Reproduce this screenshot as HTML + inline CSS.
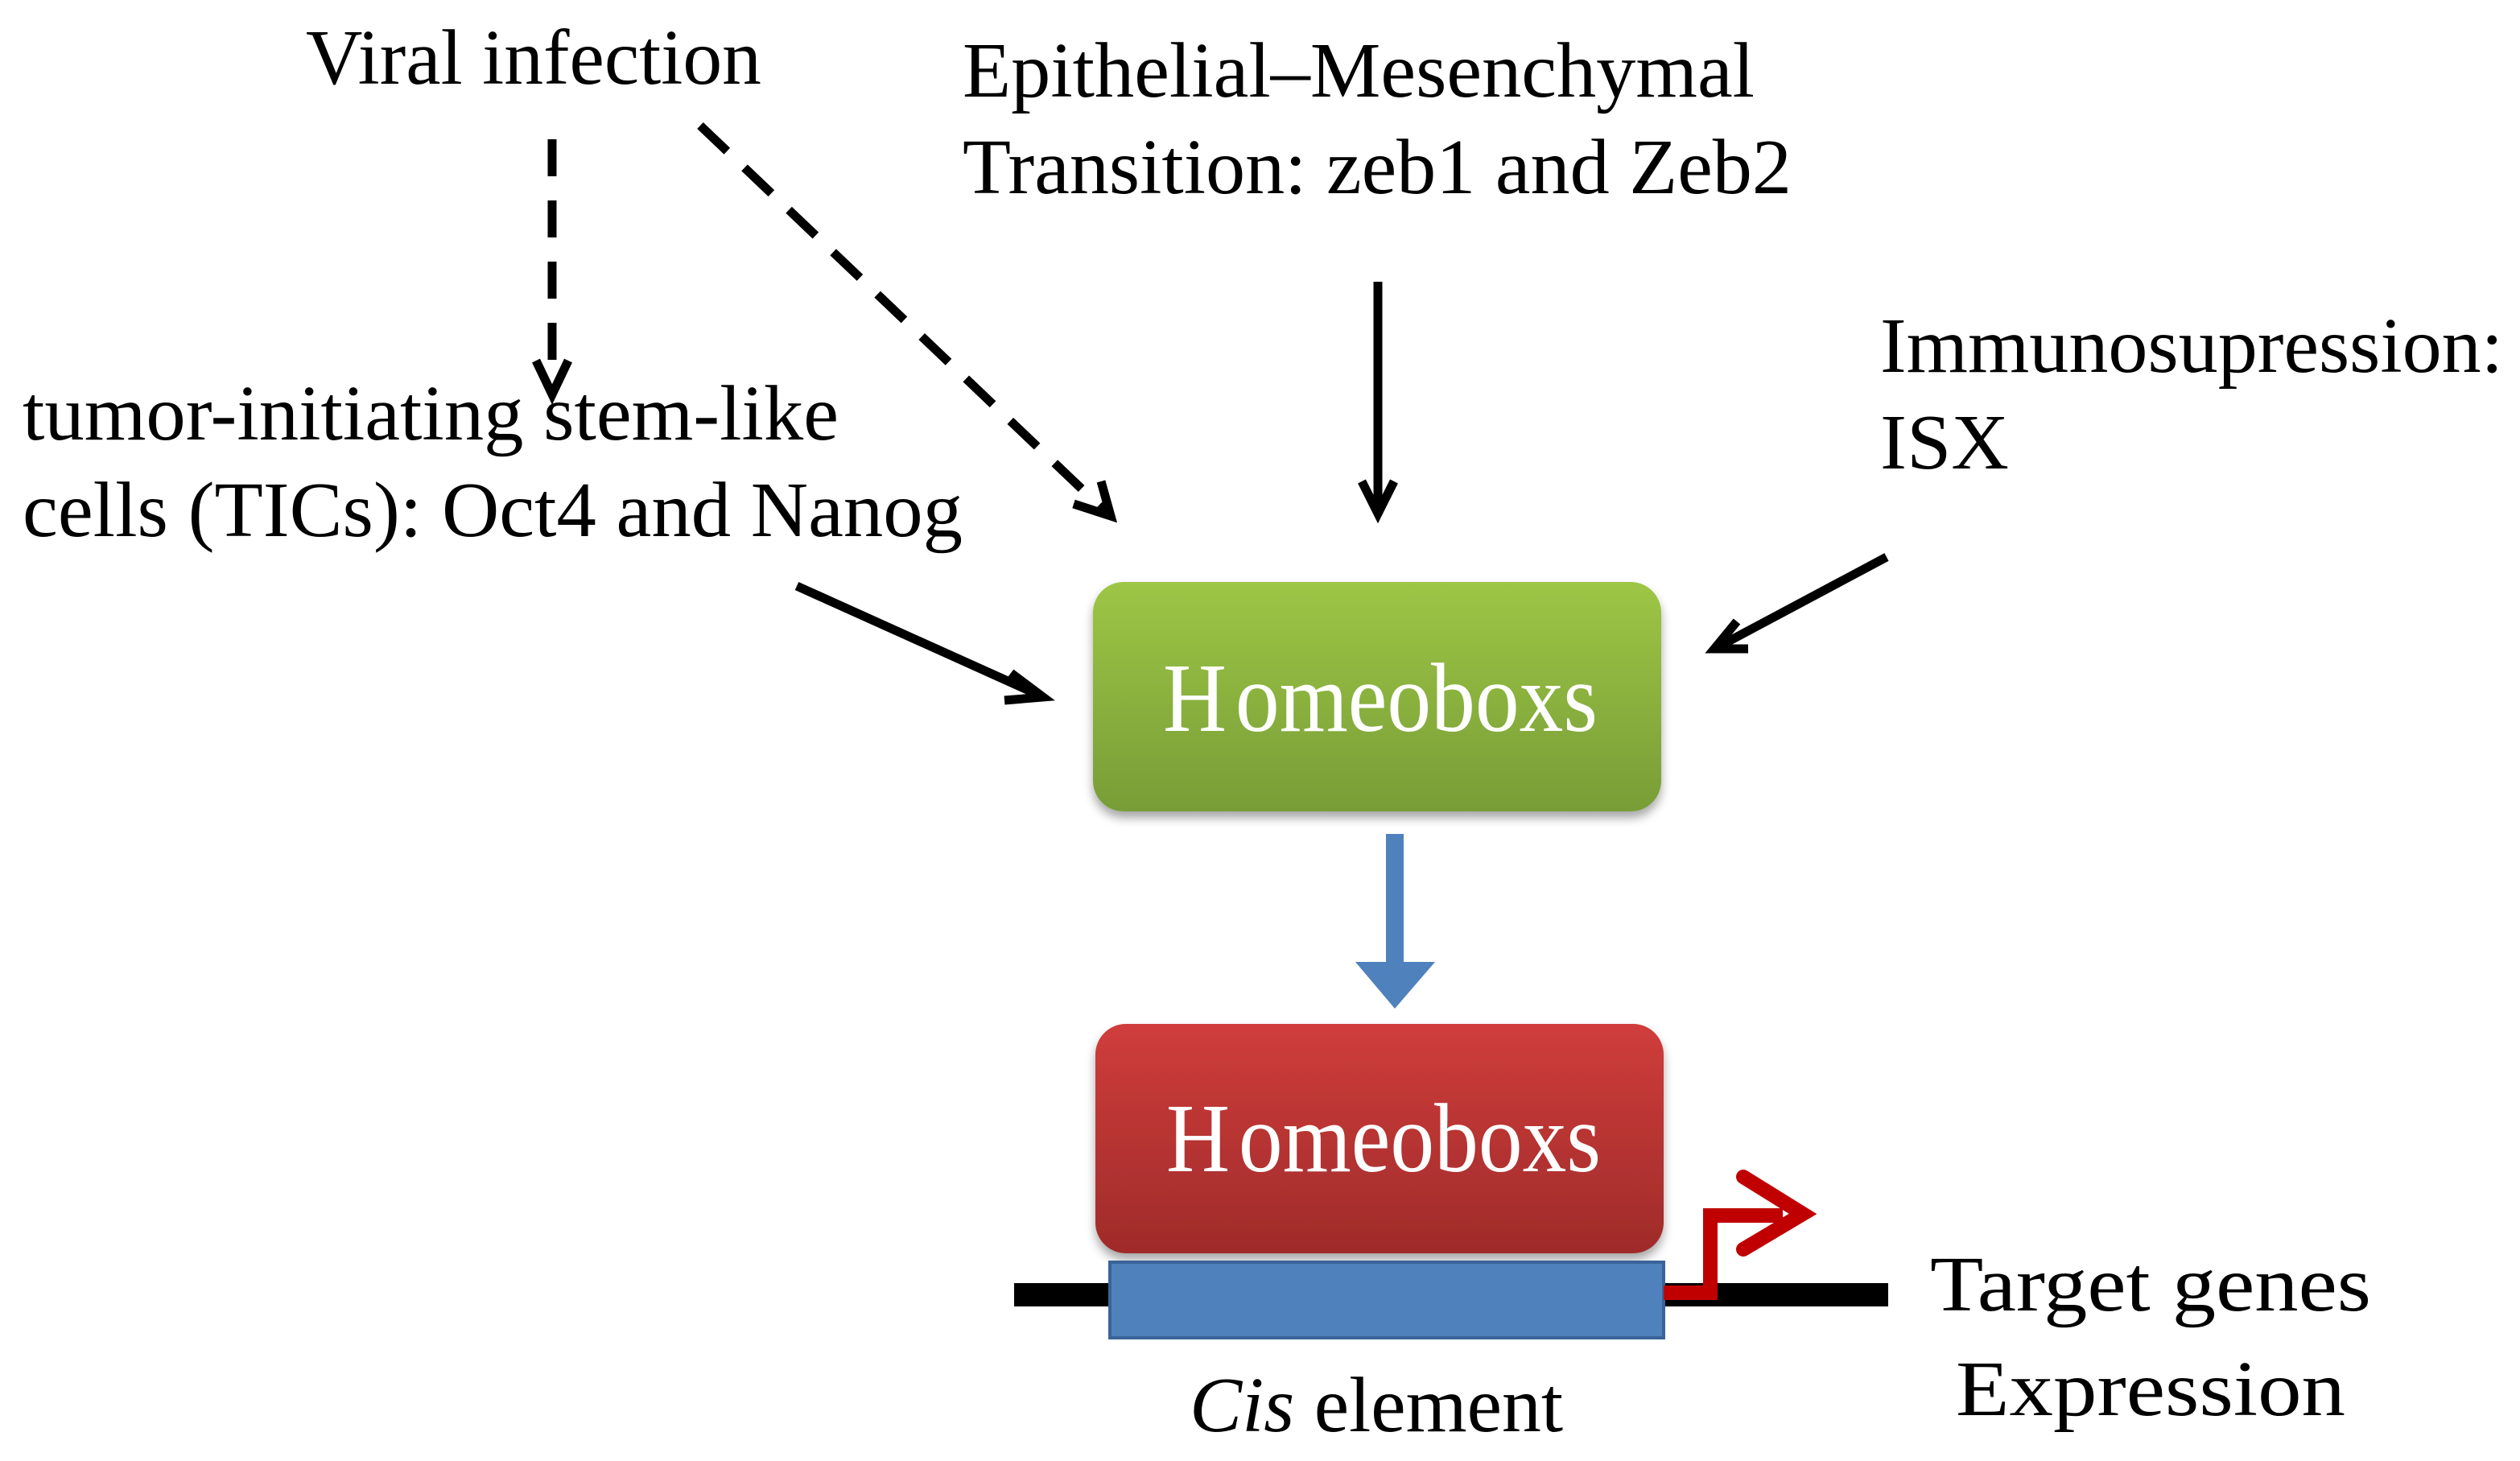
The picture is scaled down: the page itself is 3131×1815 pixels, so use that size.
<!DOCTYPE html>
<html><head><style>
html,body{margin:0;padding:0;background:#fff;}
body{width:3131px;height:1815px;position:relative;overflow:hidden;font-family:"Liberation Serif","Times New Roman",serif;}
svg text{font-family:"Liberation Serif","Times New Roman",serif;}
</style></head><body>
<svg width="3131" height="1815" viewBox="0 0 3131 1815" xmlns="http://www.w3.org/2000/svg" style="position:absolute;left:0;top:0" font-family="Liberation Serif, serif">
<defs>
<linearGradient id="g" x1="0" y1="0" x2="0" y2="1"><stop offset="0" stop-color="#9dc645"/><stop offset="1" stop-color="#789d37"/></linearGradient>
<linearGradient id="r" x1="0" y1="0" x2="0" y2="1"><stop offset="0" stop-color="#cf3d3b"/><stop offset="1" stop-color="#9f2b2a"/></linearGradient>
<filter id="sh" x="-10%" y="-10%" width="120%" height="130%"><feDropShadow dx="0" dy="8" stdDeviation="6" flood-color="#000" flood-opacity="0.35"/></filter>
</defs>
<g font-size="98" fill="#000" lengthAdjust="spacingAndGlyphs">
<text x="380" y="104" textLength="566" lengthAdjust="spacingAndGlyphs">Viral infection</text>
<text x="1196" y="120" textLength="984" lengthAdjust="spacingAndGlyphs">Epithelial–Mesenchymal</text>
<text x="1196" y="240" textLength="1030" lengthAdjust="spacingAndGlyphs">Transition: zeb1 and Zeb2</text>
<text x="2336" y="462" textLength="774" lengthAdjust="spacingAndGlyphs">Immunosupression:</text>
<text x="2336" y="582" textLength="160" lengthAdjust="spacingAndGlyphs">ISX</text>
<text x="28" y="546" textLength="1014" lengthAdjust="spacingAndGlyphs">tumor-initiating stem-like</text>
<text x="28" y="666" textLength="1168" lengthAdjust="spacingAndGlyphs">cells (TICs): Oct4 and Nanog</text>
<text x="2398" y="1628" textLength="548" lengthAdjust="spacingAndGlyphs">Target genes</text>
<text x="2430" y="1758" textLength="484" lengthAdjust="spacingAndGlyphs">Expression</text>
<text x="1478" y="1778" textLength="464" lengthAdjust="spacingAndGlyphs"><tspan font-style="italic">Cis</tspan> element</text>
</g>
<g stroke="#000" stroke-width="11" fill="none">
<line x1="686" y1="173" x2="686" y2="480" stroke-dasharray="46,30"/>
<polyline points="666,448 686,490 706,448"/>
<line x1="870" y1="156" x2="1372" y2="634" stroke-dasharray="46,30"/>
<polyline points="1334,626 1380,641 1368,598"/>
<line x1="1712" y1="350" x2="1712" y2="636"/>
<polyline points="1692,598 1712,638 1732,598"/>
<line x1="2344" y1="692" x2="2134" y2="804"/>
<polyline points="2158,772 2130,806 2172,806"/>
<line x1="990" y1="728" x2="1292" y2="864"/>
<polyline points="1256,836 1296,866 1248,870"/>
</g>
<rect x="1358" y="723" width="706" height="285" rx="38" fill="url(#g)" filter="url(#sh)"/>
<text x="1445" y="908" font-size="122" fill="#fff" textLength="540" lengthAdjust="spacingAndGlyphs">H<tspan dx="12">omeoboxs</tspan></text>
<rect x="1260" y="1594" width="1086" height="29" fill="#000"/>
<rect x="1361" y="1272" width="706" height="285" rx="38" fill="url(#r)" filter="url(#sh)"/>
<text x="1449" y="1455" font-size="122" fill="#fff" textLength="540" lengthAdjust="spacingAndGlyphs">H<tspan dx="12">omeoboxs</tspan></text>
<rect x="1379" y="1568" width="688" height="94" fill="#4f81bd" stroke="#3a639a" stroke-width="4"/>
<rect x="1722" y="1036" width="22" height="160" fill="#4f81bd"/>
<polygon points="1684,1195 1783,1195 1733,1253" fill="#4f81bd"/>
<polyline points="2067,1606 2125,1606 2125,1510 2215,1510" stroke="#c00000" stroke-width="18" fill="none"/>
<polyline points="2166,1462 2240,1508 2166,1552" stroke="#c00000" stroke-width="18" fill="none" stroke-linecap="round"/>
</svg>
</body></html>
